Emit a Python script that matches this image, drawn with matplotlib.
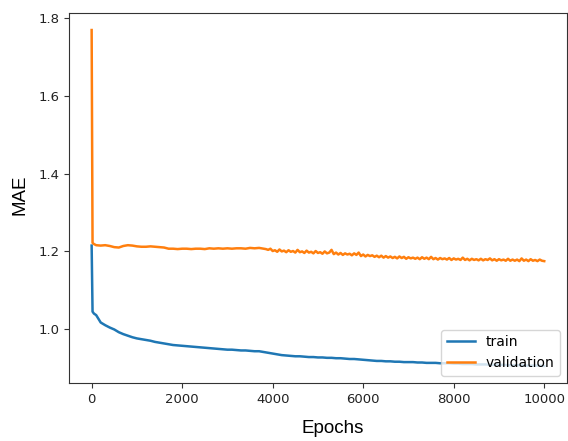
import matplotlib
matplotlib.use("Agg")
import matplotlib.pyplot as plt

train_epochs = [0, 20, 50] + list(range(100, 10001, 100))
val_epochs = [0, 20, 50] + list(range(100, 3801, 100)) + list(range(3850, 10001, 50))

train_mae = [1.215, 1.045, 1.040,
    1.036, 1.017, 1.010, 1.004, 0.999, 0.992, 0.987, 0.983, 0.979, 0.976,
    0.974, 0.972, 0.970, 0.967, 0.965, 0.963, 0.961, 0.959, 0.958, 0.957,
    0.956, 0.955, 0.954, 0.953, 0.952, 0.951, 0.950, 0.949, 0.948, 0.947,
    0.947, 0.946, 0.945, 0.945, 0.944, 0.943, 0.943, 0.941, 0.939, 0.937,
    0.935, 0.933, 0.932, 0.931, 0.930, 0.930, 0.929, 0.928, 0.928, 0.927,
    0.927, 0.926, 0.926, 0.925, 0.925, 0.924, 0.923, 0.923, 0.922, 0.921,
    0.920, 0.919, 0.918, 0.918, 0.917, 0.917, 0.916, 0.916, 0.915, 0.915,
    0.915, 0.914, 0.914, 0.913, 0.913, 0.913, 0.912, 0.912, 0.912, 0.911,
    0.911, 0.910, 0.910, 0.910, 0.909, 0.909, 0.909, 0.908, 0.908, 0.908,
    0.908, 0.907, 0.907, 0.907, 0.907, 0.906, 0.906, 0.906, 0.906, 0.905]

val_mae = [1.770, 1.222, 1.219,
    # 100 - 3800, every 100
    1.216, 1.215, 1.216, 1.214, 1.211, 1.210, 1.214, 1.216, 1.215, 1.213,
    1.212, 1.212, 1.213, 1.212, 1.211, 1.210, 1.207, 1.207, 1.206, 1.207,
    1.207, 1.206, 1.207, 1.207, 1.206, 1.208, 1.207, 1.208, 1.207, 1.208,
    1.207, 1.208, 1.208, 1.207, 1.209, 1.208, 1.209, 1.207,
    # 3850 - 10000, every 50
    1.206, 1.204, 1.207, 1.201, 1.203, 1.199, 1.205, 1.200, 1.202, 1.198,
    1.203, 1.199, 1.201, 1.197, 1.204, 1.198, 1.200, 1.196, 1.202, 1.197,
    1.199, 1.195, 1.201, 1.196, 1.198, 1.194, 1.200, 1.195, 1.197, 1.204,
    1.193, 1.197, 1.192, 1.196, 1.191, 1.195, 1.192, 1.194, 1.190, 1.195,
    1.191, 1.197, 1.188, 1.192, 1.187, 1.191, 1.188, 1.190, 1.186, 1.189,
    1.185, 1.189, 1.184, 1.188, 1.184, 1.187, 1.183, 1.186, 1.182, 1.187,
    1.183, 1.186, 1.181, 1.185, 1.182, 1.184, 1.181, 1.184, 1.180, 1.185,
    1.181, 1.184, 1.180, 1.186, 1.180, 1.183, 1.179, 1.183, 1.180, 1.182,
    1.179, 1.183, 1.178, 1.182, 1.179, 1.181, 1.178, 1.184, 1.178, 1.181,
    1.177, 1.181, 1.178, 1.180, 1.177, 1.181, 1.177, 1.180, 1.178, 1.182,
    1.177, 1.180, 1.176, 1.180, 1.177, 1.179, 1.176, 1.181, 1.176, 1.179,
    1.176, 1.179, 1.175, 1.182, 1.176, 1.179, 1.175, 1.180, 1.176, 1.178,
    1.175, 1.179, 1.176, 1.175]

series_names = ["train", "validation"]

fig = plt.figure(figsize=(5.68, 4.41), dpi=100)
ax = fig.add_axes([0.1215, 0.132, 0.8765, 0.838])
ax.plot(train_epochs, train_mae, color="#1f77b4", lw=1.8, label=series_names[0])
ax.plot(val_epochs, val_mae, color="#ff7f0e", lw=1.8, label=series_names[1])

ax.set_xticks([0, 2000, 4000, 6000, 8000, 10000])
ax.set_yticks([1.0, 1.2, 1.4, 1.6, 1.8])
ax.tick_params(labelsize=9.5, colors="#333333", labelcolor="#222222")
for s in ax.spines.values():
    s.set_color("#333333")

ax.set_xlabel("Epochs", fontfamily="Liberation Sans", fontsize=13.5, labelpad=10.5)
ax.xaxis.label.set_x(0.53)
ax.set_ylabel("MAE", fontfamily="Liberation Sans", fontsize=13.5, labelpad=7)
ax.yaxis.label.set_y(0.51)
ax.legend(loc="lower right", fontsize=10)

fig.savefig("out.png", dpi=100)
